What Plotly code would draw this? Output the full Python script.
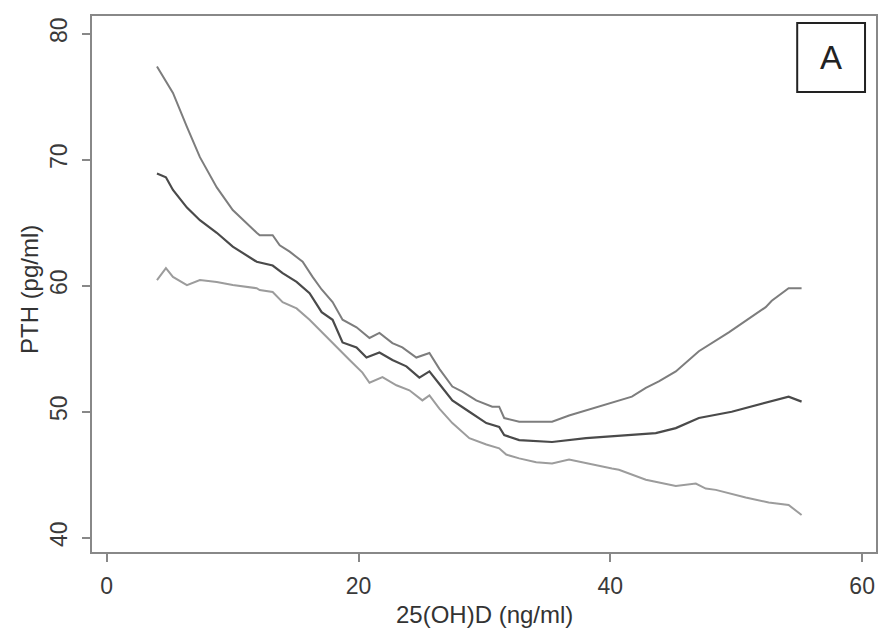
import plotly.graph_objects as go

# 25(OH)D (ng/ml) and PTH (pg/ml) — upper CI, estimate, lower CI
upper_x = [3.99, 5.26, 6.37, 7.40, 8.74, 10.01, 11.91, 12.15, 13.18, 13.74, 14.53, 15.56,
           16.35, 17.07, 17.94, 18.73, 19.84, 20.87, 21.66, 22.69, 23.48, 24.59, 25.63,
           26.42, 27.45, 28.24, 29.35, 30.62, 31.17, 31.57, 32.76, 35.37, 36.72, 38.07,
           40.13, 41.71, 42.82, 43.85, 45.20, 46.79, 47.03, 49.41, 50.75, 52.34, 52.82,
           54.16, 55.19]
upper_y = [77.4, 75.3, 72.6, 70.2, 67.8, 66.0, 64.2, 64.0, 64.0, 63.2, 62.7, 61.9,
           60.7, 59.7, 58.7, 57.3, 56.7, 55.85, 56.25, 55.45, 55.1, 54.3, 54.66,
           53.4, 52.0, 51.6, 50.9, 50.4, 50.4, 49.5, 49.2, 49.2, 49.7, 50.1,
           50.7, 51.2, 51.9, 52.4, 53.2, 54.6, 54.8, 56.3, 57.2, 58.3, 58.8,
           59.8, 59.8]

mid_x = [3.99, 4.70, 5.26, 6.37, 7.40, 8.74, 10.01, 11.91, 13.18, 13.97, 15.08, 16.11,
         17.07, 17.94, 18.73, 19.84, 20.63, 21.66, 22.69, 23.80, 24.83, 25.63, 26.42,
         27.45, 28.80, 30.15, 31.17, 31.57, 32.76, 35.37, 38.07, 40.68, 43.61, 45.20,
         47.03, 49.64, 52.34, 54.16, 55.19]
mid_y = [68.9, 68.6, 67.6, 66.2, 65.2, 64.2, 63.1, 61.9, 61.6, 61.0, 60.3, 59.4,
         57.9, 57.3, 55.5, 55.1, 54.3, 54.7, 54.1, 53.6, 52.7, 53.2, 52.2,
         50.9, 50.0, 49.1, 48.8, 48.15, 47.75, 47.6, 47.9, 48.1, 48.3, 48.7,
         49.5, 50.0, 50.7, 51.2, 50.8]

lower_x = [3.99, 4.70, 5.26, 6.37, 7.40, 8.74, 10.01, 11.91, 12.15, 13.18, 13.97, 15.08,
           16.11, 17.14, 18.25, 19.29, 20.31, 20.87, 21.90, 23.01, 24.04, 25.07, 25.63,
           26.42, 27.45, 28.80, 30.15, 31.17, 31.73, 32.76, 34.11, 35.37, 36.72, 38.07,
           40.13, 40.68, 42.82, 45.20, 46.79, 47.58, 48.38, 50.75, 52.58, 54.16, 55.19]
lower_y = [60.45, 61.4, 60.7, 60.05, 60.45, 60.3, 60.05, 59.8, 59.66, 59.5, 58.7, 58.2,
           57.3, 56.25, 55.1, 54.1, 53.1, 52.3, 52.75, 52.1, 51.7, 50.9, 51.3,
           50.25, 49.1, 47.9, 47.4, 47.1, 46.6, 46.3, 46.0, 45.9, 46.2, 45.9,
           45.5, 45.4, 44.6, 44.1, 44.3, 43.9, 43.8, 43.2, 42.8, 42.6, 41.8]

x_ticks = [0, 20, 40, 60]
y_ticks = [40, 50, 60, 70, 80]
x_title = "25(OH)D (ng/ml)"
y_title = "PTH (pg/ml)"
panel_label = "A"

fig = go.Figure()
fig.add_trace(go.Scatter(x=upper_x, y=upper_y, mode="lines",
                         line=dict(color="#7d7d7d", width=2), showlegend=False))
fig.add_trace(go.Scatter(x=mid_x, y=mid_y, mode="lines",
                         line=dict(color="#4a4a4a", width=2.2), showlegend=False))
fig.add_trace(go.Scatter(x=lower_x, y=lower_y, mode="lines",
                         line=dict(color="#9c9c9c", width=2), showlegend=False))

font_family = "Liberation Sans, Arial, sans-serif"

fig.update_layout(
    width=882, height=631,
    margin=dict(l=92, r=4, t=16, b=79),
    paper_bgcolor="white", plot_bgcolor="white",
    font=dict(family=font_family, color="#333333"),
    xaxis=dict(range=[-1.17, 61.1], tickvals=x_ticks, ticks="outside", ticklen=8,
               tickwidth=1.5, tickcolor="#888888", showline=True, mirror=True,
               linecolor="#888888", linewidth=2, showgrid=False, zeroline=False,
               tickfont=dict(size=23, color="#3a3a3a"), ticklabelstandoff=4),
    yaxis=dict(range=[38.87, 81.4], tickvals=y_ticks, ticks="outside", ticklen=8,
               tickwidth=1.5, tickcolor="#888888", showline=True, mirror=True,
               linecolor="#888888", linewidth=2, showgrid=False, zeroline=False,
               tickangle=-90, tickfont=dict(size=23, color="#3a3a3a"),
               ticklabelstandoff=6),
    shapes=[dict(type="rect", xref="paper", yref="paper",
                 x0=0.8995, x1=0.986, y0=0.858, y1=0.987,
                 line=dict(color="#222222", width=2), fillcolor="white")],
    annotations=[
        dict(text=panel_label, xref="paper", yref="paper", x=0.943, y=0.922,
             showarrow=False, font=dict(size=33, color="#222222"),
             xanchor="center", yanchor="middle"),
        dict(text=x_title, xref="paper", yref="paper", x=0.5, y=-0.1157,
             showarrow=False, font=dict(size=24, color="#333333"),
             xanchor="center", yanchor="middle"),
        dict(text=y_title, xref="paper", yref="paper", x=-0.0789, y=0.489,
             showarrow=False, textangle=-90, font=dict(size=24, color="#333333"),
             xanchor="center", yanchor="middle"),
    ],
)

fig.write_html("out.html", config={"displayModeBar": False},
               post_script="document.body.style.margin='0';document.body.style.padding='0';")
